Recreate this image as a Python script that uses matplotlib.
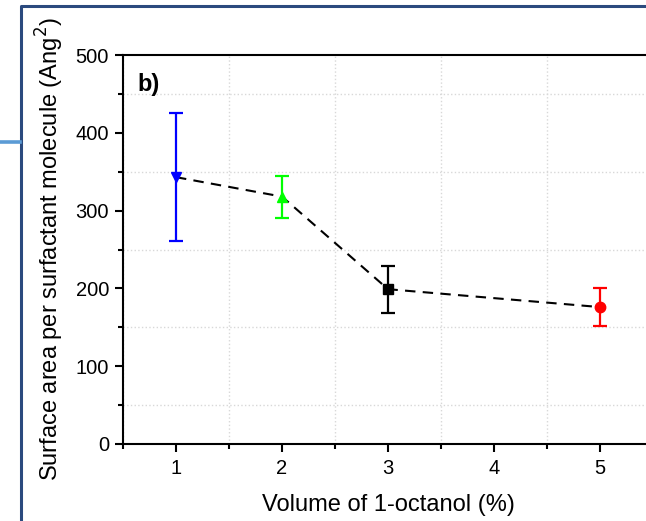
import matplotlib.pyplot as plt
from matplotlib.lines import Line2D
from matplotlib.ticker import MultipleLocator

plt.rcParams['font.family'] = ['Liberation Sans', 'DejaVu Sans']

# octanol volume (%), mean area per molecule and its error
volume = [1, 2, 3, 5]
area = [343, 318, 199, 176]
area_err = [82, 27, 30, 24]
colors = ['#0000ff', '#00ff00', '#000000', '#ff0000']
markers = ['v', '^', 's', 'o']

fig = plt.figure(figsize=(6.46, 5.21), dpi=100)
ax = fig.add_axes([0.1904, 0.1478, 0.8204, 0.7466])

# dashed trend line through the means
ax.plot(volume, area, linestyle=(0, (5, 3.5)), color='black', linewidth=1.5, zorder=2)

for x, y, e, c, m in zip(volume, area, area_err, colors, markers):
    ax.errorbar(x, y, yerr=e, color=c, marker=m, markersize=7.5,
                capsize=5, capthick=1.6, elinewidth=1.6, zorder=3)

ax.set_xlim(0.5, 5.5)
ax.set_ylim(0, 500)
ax.xaxis.set_major_locator(MultipleLocator(1))
ax.xaxis.set_minor_locator(MultipleLocator(0.5))
ax.yaxis.set_major_locator(MultipleLocator(100))
ax.yaxis.set_minor_locator(MultipleLocator(50))
ax.set_xticks([1, 2, 3, 4, 5])
ax.set_xticklabels(['1', '2', '3', '4', '5'])

ax.grid(which='minor', color='#d8d8d8', linestyle=':', linewidth=1.0)
ax.grid(which='major', visible=False)
ax.set_axisbelow(True)

ax.tick_params(which='major', direction='out', length=6, width=1.5, labelsize=14.5)
ax.tick_params(which='minor', direction='out', length=3.5, width=1.5)
ax.tick_params(axis='x', pad=5)
ax.tick_params(axis='y', pad=4)
for side in ['left', 'bottom', 'top']:
    ax.spines[side].set_linewidth(1.5)
ax.spines['right'].set_visible(False)

ax.set_xlabel('Volume of 1-octanol (%)', fontsize=17, labelpad=11)
ax.set_ylabel('Surface area per surfactant molecule (Ang$^2$)', fontsize=17, labelpad=7)
ax.text(0.027, 0.955, 'b)', transform=ax.transAxes, fontsize=17, fontweight='bold',
        va='top', ha='left')

# slide frame around the panel
W, H = 646, 521
fig.add_artist(Line2D([21 / W, 21 / W, 1.0], [0.0, 1 - 6 / H, 1 - 6 / H],
                      color='#2b4a7e', linewidth=2.2, transform=fig.transFigure))
fig.add_artist(Line2D([0.0, 20 / W], [1 - 142 / H, 1 - 142 / H],
                      color='#5b9bd5', linewidth=2.6, transform=fig.transFigure))

fig.savefig('out.png', dpi=100)
